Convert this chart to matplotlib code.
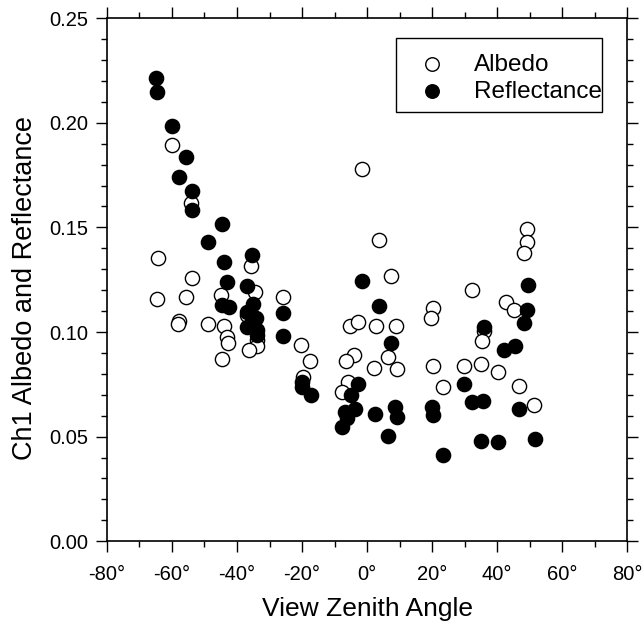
import matplotlib
matplotlib.use("Agg")
import matplotlib.pyplot as plt
from matplotlib.ticker import MultipleLocator, FuncFormatter
from matplotlib.patches import Rectangle

plt.rcParams['font.family'] = ['Liberation Sans', 'DejaVu Sans']

# Albedo (open circles)
albedo_x = [-59.9, -54.2, -64.4, -35.6, -53.8, -34.5, -44.8, -25.9, -64.6, -55.7,
            -37.0, -57.8, -58.2, -48.8, -43.9, -43.2, -42.7, -33.8, -33.8, -20.2,
            -36.2, -44.5, -17.5, -19.6,
            -1.6, 3.7, 49.2, 49.3, 48.1, 7.4, 32.4, 42.6, 45.3, 20.4, 19.7, -5.2,
            -2.7, 2.6, 8.9, 35.8, 35.3, -3.9, -6.6, 6.4, 2.1, 9.3, 20.3, 29.8,
            35.0, 40.3, 46.7, -5.9, -7.6, 23.4, 51.3]
albedo_y = [0.1893, 0.1617, 0.1354, 0.1315, 0.1256, 0.1190, 0.1179, 0.1166, 0.1158, 0.1168,
            0.1080, 0.1053, 0.1037, 0.1040, 0.1029, 0.0974, 0.0948, 0.0961, 0.0932, 0.0940,
            0.0912, 0.0873, 0.0860, 0.0785,
            0.1781, 0.1442, 0.1490, 0.1428, 0.1378, 0.1267, 0.1201, 0.1141, 0.1104, 0.1117, 0.1066, 0.1029,
            0.1048, 0.1029, 0.1028, 0.1004, 0.0956, 0.0892, 0.0862, 0.0881, 0.0830, 0.0821, 0.0838, 0.0837,
            0.0848, 0.0809, 0.0744, 0.0762, 0.0711, 0.0738, 0.0653]

# Reflectance (filled circles)
refl_x = [-64.8, -64.6, -59.9, -55.7, -57.8, -53.8, -53.9, -44.7, -48.9,
          -44.0, -35.5, -43.2, -37.0, -44.6, -42.5, -35.2, -37.0, -25.9, -34.2,
          -36.8, -33.9, -33.8, -25.8, -20.1, -19.9, -17.3,
          -1.6, 49.4, 3.7, 49.2, 48.1, 35.8, 7.3, 45.6, 42.2, 29.8, -2.9, -5.0,
          32.2, 35.5, -3.8, -6.7, 8.7, 19.9, 2.3, 9.3, 20.4, -6.1, 46.7, -7.8,
          6.5, 34.9, 40.2, 51.5, 23.4]
refl_y = [0.2214, 0.2146, 0.1984, 0.1836, 0.1740, 0.1672, 0.1581, 0.1514, 0.1431,
          0.1334, 0.1370, 0.1241, 0.1219, 0.1128, 0.1120, 0.1133, 0.1096, 0.1090, 0.1069,
          0.1024, 0.1009, 0.0988, 0.0980, 0.0759, 0.0735, 0.0698,
          0.1244, 0.1227, 0.1122, 0.1106, 0.1042, 0.1023, 0.0948, 0.0934, 0.0912, 0.0752, 0.0751, 0.0700,
          0.0665, 0.0668, 0.0632, 0.0618, 0.0641, 0.0642, 0.0609, 0.0593, 0.0601, 0.0590, 0.0632, 0.0547,
          0.0502, 0.0478, 0.0472, 0.0489, 0.0413]

fig = plt.figure(figsize=(6.44, 6.25), dpi=100)
ax = fig.add_axes([0.166, 0.134, 0.808, 0.837])

ax.scatter(albedo_x, albedo_y, s=105, facecolors='white', edgecolors='black',
           linewidths=1.0, label='Albedo', zorder=3)
ax.scatter(refl_x, refl_y, s=105, facecolors='black', edgecolors='black',
           linewidths=1.0, label='Reflectance', zorder=3)

ax.set_xlim(-80, 80)
ax.set_ylim(0.0, 0.25)
ax.xaxis.set_major_locator(MultipleLocator(20))
ax.xaxis.set_minor_locator(MultipleLocator(10))
ax.yaxis.set_major_locator(MultipleLocator(0.05))
ax.yaxis.set_minor_locator(MultipleLocator(0.01))
ax.xaxis.set_major_formatter(FuncFormatter(lambda v, p: f"{int(round(v))}°"))
ax.yaxis.set_major_formatter(FuncFormatter(lambda v, p: f"{v:.2f}"))

ax.tick_params(which='both', direction='out', top=True, right=True,
               labeltop=False, labelright=False, width=1.0)
ax.tick_params(which='major', length=8, labelsize=14.5)
ax.tick_params(axis='x', which='major', pad=9)
ax.tick_params(axis='y', which='major', pad=5.5)
ax.tick_params(which='minor', length=4.5)
for sp in ax.spines.values():
    sp.set_linewidth(1.2)

ax.set_xlabel('View Zenith Angle', fontsize=19)
ax.set_ylabel('Ch1 Albedo and Reflectance', fontsize=19.5)
ax.yaxis.set_label_coords(-0.1327, 0.484)
ax.xaxis.set_label_coords(0.5, -0.107)

# legend frame
ax.add_patch(Rectangle((0.5558, 0.8203), 0.952 - 0.5558, 0.9618 - 0.8203,
                       transform=ax.transAxes, facecolor='white', edgecolor='black',
                       linewidth=1.0, zorder=4))
leg = ax.legend(loc='upper left', bbox_to_anchor=(0.6019, 0.9321), fontsize=17.5,
                frameon=False, borderpad=0.0, borderaxespad=0.0,
                handlelength=1.0, handletextpad=1.21, labelspacing=0.2,
                markerscale=0.95)
leg.set_zorder(5)

fig.savefig('out.png', dpi=100)
